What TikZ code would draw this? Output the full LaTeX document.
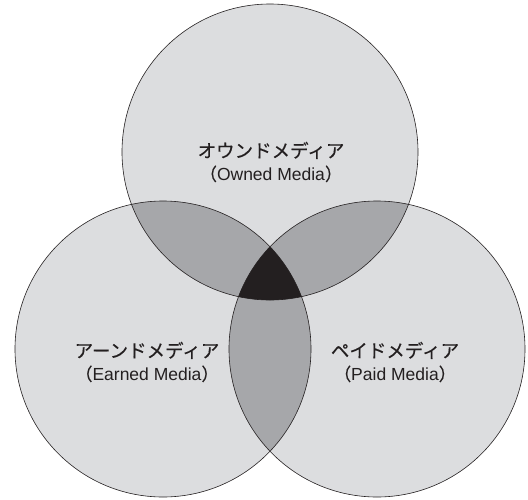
\documentclass[tikz,border=0pt]{standalone}
\usepackage{fontspec}
\setmainfont{Liberation Sans}
\newfontfamily\jpfont[FakeBold=0.3]{Noto Sans CJK JP}
\definecolor{venngray}{HTML}{DCDDDF}
\definecolor{vennmid}{HTML}{A6A7AA}
\definecolor{venndark}{HTML}{231F20}

\begin{document}
\begin{tikzpicture}[x=1pt,y=-1pt,
    ring/.style={draw=venndark,line width=.6pt},
    media/.style={align=center,text=venndark,inner sep=0pt,
      font=\fontsize{17.5}{23}\selectfont}]
    \useasboundingbox (0,0) rectangle (528,499);
    \def\rad{148pt}
    \coordinate (owned) at (270,152);
    \coordinate (earned) at (163,349);
    \coordinate (paid) at (377,349);
    % circles
    \foreach \c in {owned,earned,paid}
    \fill[venngray] (\c) circle (\rad);
    % two-way overlaps
    \foreach \a/\b in {owned/earned,owned/paid,earned/paid}
    {\begin{scope}
      \clip (\a) circle (\rad);
      \fill[vennmid] (\b) circle (\rad);
    \end{scope}}
    % three-way overlap
    \begin{scope}
      \clip (owned) circle (\rad);
      \clip (earned) circle (\rad);
      \fill[venndark] (paid) circle (\rad);
    \end{scope}
    \foreach \c in {owned,earned,paid}
    \draw[ring] (\c) circle (\rad);
    \node[media] (ownedtext) at (271,162)
      {{\jpfont\fontsize{18.5}{23}\selectfont オウンドメディア}\\{\jpfont （}Owned Media{\jpfont ）}};
    \node[media] (earnedtext) at (147,362)
      {{\jpfont\fontsize{18.5}{23}\selectfont アーンドメディア}\\{\jpfont （}Earned Media{\jpfont ）}};
    \node[media] (paidtext) at (395,362)
      {{\jpfont\fontsize{18.5}{23}\selectfont ペイドメディア}\\{\jpfont （}Paid Media{\jpfont ）}};
  \end{tikzpicture}
\end{document}
